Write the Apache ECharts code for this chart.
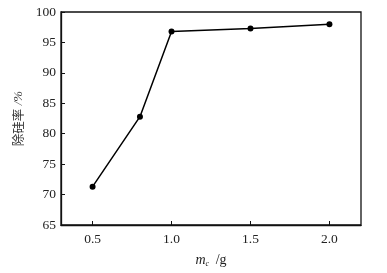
<!DOCTYPE html>
<html>
<head>
<meta charset="utf-8">
<script src="https://cdn.jsdelivr.net/npm/echarts@6/dist/echarts.min.js"></script>
<style>
  html, body { margin: 0; padding: 0; background: #fff; }
  #chart { width: 387px; height: 273px; }
</style>
</head>
<body>
<div id="chart"></div>
<script>
// 投加量 m_c (g) 与除硅率 (%)
const dosage = [0.5, 0.8, 1.0, 1.5, 2.0]
const removalRate = [71.3, 82.8, 96.8, 97.3, 98.0]
const xTicks = [0.5, 1.0, 1.5, 2.0]

const serif = '"Liberation Serif", "Times New Roman", serif'
const cjk = '"Noto Sans CJK SC", sans-serif'

const chart = echarts.init(document.getElementById('chart'))

chart.setOption({
  animation: false,
  backgroundColor: '#fff',
  grid: {
    left: 61,
    right: 26,
    top: 12,
    bottom: 46,
    show: true,
    borderColor: '#111',
    borderWidth: 1.3
  },
  xAxis: {
    type: 'value',
    min: 0.3,
    max: 2.2,
    axisLine: { show: true, onZero: false, lineStyle: { color: '#111', width: 1.3 } },
    axisTick: {
      show: true,
      inside: true,
      length: 4,
      lineStyle: { color: '#111' },
      customValues: xTicks
    },
    axisLabel: {
      color: '#222',
      fontFamily: serif,
      fontSize: 13.5,
      margin: 7,
      customValues: xTicks,
      formatter: v => v.toFixed(1)
    },
    splitLine: { show: false },
    name: '{i|m}{sub|c}  {n|/g}',
    nameLocation: 'middle',
    nameGap: 27,
    nameTextStyle: {
      rich: {
        i: { fontFamily: serif, fontStyle: 'italic', fontSize: 14, color: '#222' },
        sub: { fontFamily: serif, fontStyle: 'italic', fontSize: 8, color: '#222', padding: [8, 0, 0, 0] },
        n: { fontFamily: serif, fontSize: 14, color: '#222' }
      }
    }
  },
  yAxis: {
    type: 'value',
    min: 65,
    max: 100,
    interval: 5,
    axisLine: { show: true, lineStyle: { color: '#111', width: 1.3 } },
    axisTick: { show: true, inside: true, length: 4, lineStyle: { color: '#111' } },
    axisLabel: {
      color: '#222',
      fontFamily: serif,
      fontSize: 13.5,
      margin: 5
    },
    splitLine: { show: false },
    name: '{c|除硅率} {n|/%}',
    nameLocation: 'middle',
    nameRotate: 90,
    nameGap: 34,
    nameTextStyle: {
      rich: {
        c: { fontFamily: cjk, fontSize: 12.5, color: '#333' },
        n: { fontFamily: serif, fontStyle: 'italic', fontSize: 13, color: '#333' }
      }
    }
  },
  series: [{
    type: 'line',
    data: dosage.map((x, i) => [x, removalRate[i]]),
    symbol: 'circle',
    symbolSize: 6,
    itemStyle: { color: '#000' },
    lineStyle: { color: '#000', width: 1.5 }
  }]
})
</script>
</body>
</html>
